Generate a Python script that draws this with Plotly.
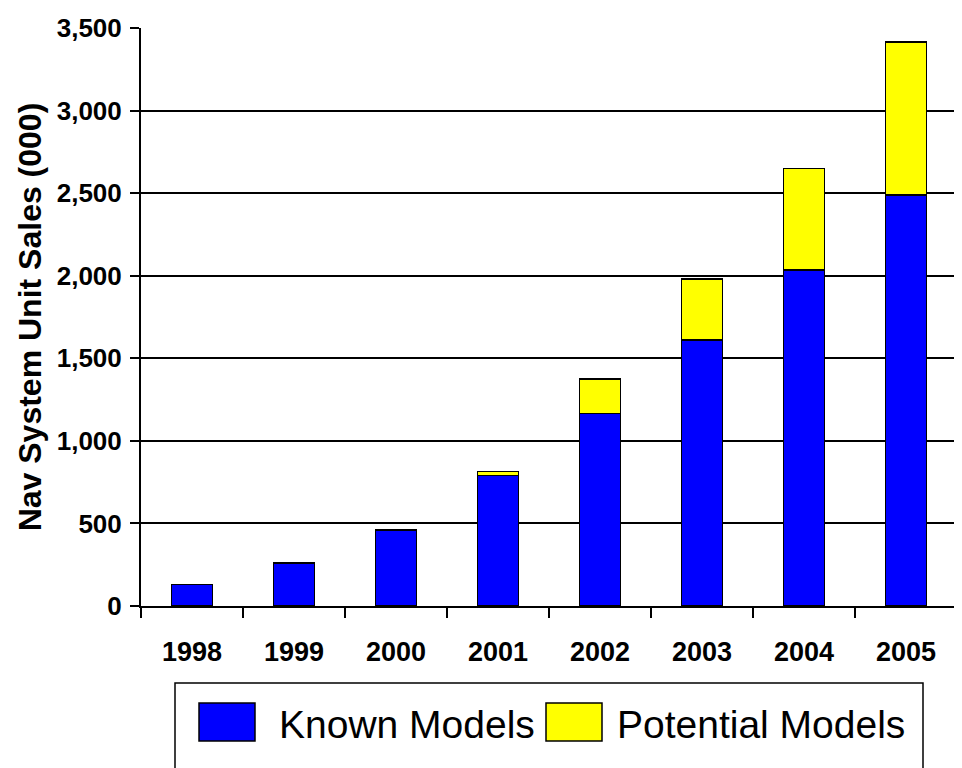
import plotly.graph_objects as go

years = ["1998", "1999", "2000", "2001", "2002", "2003", "2004", "2005"]
known_models = [130, 260, 460, 790, 1165, 1610, 2035, 2490]
potential_models = [None, None, None, 25, 210, 370, 615, 925]
y_ticks = [0, 500, 1000, 1500, 2000, 2500, 3000, 3500]

FONT = "Liberation Sans, Arial, sans-serif"

# the page body has an 8px margin; figure sits at (8, 8)
OFF = 8
FIG_W, FIG_H = 962 - OFF, 768 - OFF

# plot area in window pixels
L, R, T, B = 141, 957, 28, 606
W, H = R - L, B - T


def px_x(p):
    return (p - L) / W


def px_y(p):
    return (B - p) / H


fig = go.Figure()
fig.add_trace(go.Bar(
    x=years, y=known_models, name="Known Models",
    marker=dict(color="#0000FF", line=dict(color="black", width=1.5)),
))
fig.add_trace(go.Bar(
    x=years, y=potential_models, name="Potential Models",
    marker=dict(color="#FFFF00", line=dict(color="black", width=1.5)),
))

fig.update_layout(
    width=FIG_W, height=FIG_H,
    margin=dict(l=L - OFF, r=OFF + FIG_W - R, t=T - OFF, b=OFF + FIG_H - B, autoexpand=False),
    barmode="stack", bargap=0.6,
    plot_bgcolor="white", paper_bgcolor="white",
    showlegend=False,
    font=dict(family=FONT, color="black"),
)

fig.update_xaxes(
    type="category",
    showline=True, linecolor="black", linewidth=2,
    ticks="outside", tickson="boundaries", ticklen=10, tickwidth=1.5, tickcolor="black",
    tickfont=dict(size=27, family=FONT, weight="bold"),
    ticklabelstandoff=21,
    showgrid=False,
)
fig.update_yaxes(
    range=[0, 3500],
    tickvals=y_ticks, ticktext=[f"{v:,}" for v in y_ticks],
    showline=True, linecolor="black", linewidth=2,
    ticks="outside", ticklen=9, tickwidth=1.5, tickcolor="black",
    tickfont=dict(size=26, family=FONT, weight="bold"),
    ticklabelstandoff=3,
    showgrid=True, gridcolor="black", gridwidth=1.8,
    zeroline=False,
    title=dict(text="Nav System Unit Sales (000)", standoff=6,
               font=dict(size=32, family=FONT, weight="bold")),
)

# custom legend box
shapes = [
    dict(type="rect", xref="paper", yref="paper",
         x0=px_x(175), x1=px_x(923), y0=px_y(683), y1=px_y(800),
         line=dict(color="black", width=1.5), fillcolor="white", layer="above"),
    dict(type="rect", xref="paper", yref="paper",
         x0=px_x(199), x1=px_x(255), y0=px_y(703), y1=px_y(741),
         line=dict(color="black", width=1.5), fillcolor="#0000FF", layer="above"),
    dict(type="rect", xref="paper", yref="paper",
         x0=px_x(546), x1=px_x(602), y0=px_y(703), y1=px_y(741),
         line=dict(color="black", width=1.5), fillcolor="#FFFF00", layer="above"),
]
fig.update_layout(shapes=shapes)
fig.add_annotation(text="Known Models", xref="paper", yref="paper",
                   x=px_x(277), y=px_y(724), xanchor="left", yanchor="middle",
                   showarrow=False, font=dict(size=39, family=FONT, color="black"))
fig.add_annotation(text="Potential Models", xref="paper", yref="paper",
                   x=px_x(615), y=px_y(724), xanchor="left", yanchor="middle",
                   showarrow=False, font=dict(size=39, family=FONT, color="black"))

fig.write_html("out.html")
